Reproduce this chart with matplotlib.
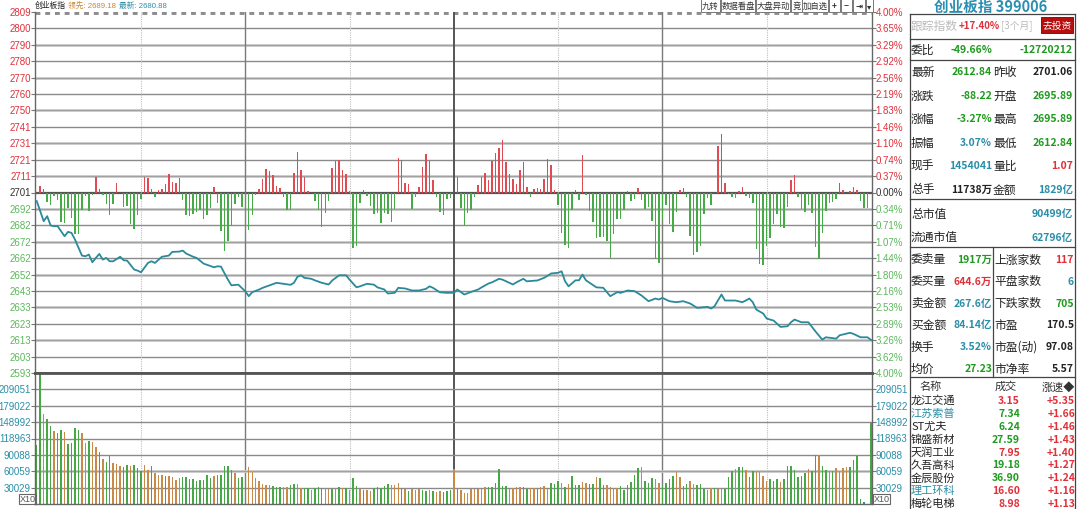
import matplotlib
matplotlib.use('Agg')
import matplotlib.pyplot as plt
from matplotlib.patches import Rectangle

plt.rcParams['font.family'] = ['Noto Sans CJK SC', 'DejaVu Sans']

W, H = 1080, 510

# -- data -- #
prev_close = 2701.06
price_step = 9.822

price_labels = ['2809', '2800', '2790', '2780', '2770', '2760', '2750', '2741', '2731', '2721', '2711',
                '2701',
                '2692', '2682', '2672', '2662', '2652', '2643', '2633', '2623', '2613', '2603', '2593']
pct_labels = ['4.00%', '3.65%', '3.29%', '2.92%', '2.56%', '2.19%', '1.83%', '1.46%', '1.10%', '0.74%', '0.37%',
              '0.00%',
              '0.34%', '0.71%', '1.07%', '1.44%', '1.80%', '2.16%', '2.53%', '2.89%', '3.26%', '3.62%', '4.00%']
vol_labels = ['30029', '60059', '90088', '118963', '148992', '179022', '209051']
vol_step = 30029.4

# index line (minute, price)
price_min = [0, 2, 3, 4, 5, 6, 8, 9, 10, 11, 13, 14, 15, 16, 17, 18, 19, 20, 21, 22, 24, 25, 26, 28, 29, 30,
             32, 33, 34, 36, 38, 39, 41, 42, 43, 45, 46, 48, 51, 52, 53, 55, 56, 58, 60, 61, 62, 64, 65, 67,
             69, 71, 73, 74, 75, 76, 77, 79, 80, 82, 84, 85, 87, 89, 90, 92, 93, 95, 97, 98, 100, 101, 103,
             104, 106, 108, 110, 112, 113, 114, 116, 118, 120,
             121, 123, 125, 127, 128, 130, 131, 133, 134, 137, 138, 140, 141, 144, 146, 148, 150, 151, 152,
             153, 155, 156, 157, 158, 161, 163, 165, 167, 168, 170, 172, 174, 176, 178, 179, 180, 182, 184,
             186, 188, 190, 193, 194, 195, 197, 198, 201, 203, 204, 205, 206, 207, 209, 210, 212, 214, 216,
             217, 218, 220, 222, 224, 226, 227, 230, 231, 234, 235, 237, 239, 240]
price_val = [2695.9, 2683.9, 2686.9, 2681.3, 2680.9, 2680.9, 2674.9, 2677.5, 2676.9, 2672.9, 2663.3, 2662.9,
             2663.9, 2659.3, 2661.9, 2664.3, 2660.9, 2661.9, 2659.9, 2659.9, 2662.6, 2660.5, 2660.3, 2655.0,
             2654.3, 2653.3, 2658.9, 2659.9, 2658.9, 2662.6, 2663.3, 2665.5, 2665.7, 2666.3, 2664.5, 2662.6,
             2661.9, 2658.5, 2656.3, 2656.9, 2656.7, 2648.9, 2645.5, 2645.9, 2641.9, 2639.0, 2641.4, 2643.0,
             2644.0, 2645.5, 2647.0, 2646.4, 2645.8, 2647.0, 2650.6, 2651.5, 2650.0, 2649.4, 2648.5, 2647.0,
             2646.0, 2648.4, 2651.5, 2651.5, 2648.9, 2644.3, 2644.9, 2646.4, 2645.9, 2644.3, 2643.0, 2640.6,
             2641.0, 2644.0, 2643.6, 2642.4, 2642.4, 2643.4, 2644.9, 2644.0, 2641.3, 2641.0, 2641.0,
             2643.0, 2640.0, 2641.6, 2643.0, 2644.3, 2646.6, 2647.3, 2649.4, 2648.9, 2646.0, 2647.3, 2649.4,
             2647.9, 2648.4, 2650.0, 2652.6, 2653.0, 2653.9, 2647.9, 2644.9, 2648.5, 2648.5, 2651.9, 2648.5,
             2644.3, 2644.0, 2639.0, 2641.4, 2641.0, 2642.4, 2642.0, 2639.4, 2636.0, 2637.6, 2637.0, 2638.0,
             2636.0, 2635.4, 2636.0, 2634.6, 2632.0, 2632.6, 2631.6, 2633.0, 2640.0, 2636.4, 2636.4, 2635.4,
             2636.4, 2637.6, 2635.4, 2631.0, 2628.6, 2625.6, 2624.4, 2620.6, 2621.0, 2623.4, 2625.0, 2623.4,
             2623.4, 2618.0, 2613.0, 2614.4, 2613.6, 2615.6, 2617.1, 2616.4, 2614.4, 2614.4, 2612.84]

# red / green strength bars per minute, in index points from the previous close
force = [0,
         3.6, 1.8, -5.6, -7.6, -2.0, -4.4, -17.4, -18.0, -9.0, -15.0,
         -24.6, -24.6, -10.2, -2.0, -10.8, -1.6, 9.4, 2.0, -1.6, -7.0,
         -13.2, -7.0, 5.4, 0, -8.6, -8.0, -18.7, -22.0, -13.6, -4.0,
         9.4, 8.8, 2.0, -2.4, 1.4, 2.0, 5.0, 10.8, 6.0, 5.4,
         8.8, -4.4, -13.4, -14.0, -12.8, -11.4, -10.4, -15.6, -13.2, -9.2,
         3.0, -6.0, -22.9, -35.3, -29.3, -19.9, -7.0, -2.6, -8.6, -28.0,
         -22.6, -13.4, -1.4, 2.0, 8.0, 14.0, 13.0, 10.2, 3.8, 2.8,
         -2.4, -10.6, -10.2, 11.6, 24.1, 13.2, 9.4, 0.8, 0, -4.8,
         -10.4, -20.4, -12.0, -5.2, 14.6, 18.6, 19.3, 13.2, 11.2, 1.0,
         -33.1, -31.9, -6.4, 1.6, -2.0, -8.0, -12.8, -12.0, -18.0, -12.0,
         -13.0, -17.5, -10.0, 20.5, 19.6, 5.8, 4.8, -9.6, -2.6, 3.2,
         15.0, 22.8, 18.7, 7.4, -2.4, -11.6, -13.2, -3.8, -3.4, 0,
         9.4, -9.4, -20.0, -12.0, -10.4, -2.6, 4.6, 9.0, 11.4, 7.6,
         19.0, 23.6, 26.8, 31.3, 18.4, 11.0, 8.0, 5.2, 13.2, 18.1,
         3.4, -2.4, 2.0, 2.8, 2.0, 8.0, 19.9, 16.4, 1.2, -7.2,
         -24.0, -31.6, -33.1, -10.4, 1.4, -4.4, 22.3, -1.6, -10.8, -17.5,
         -27.4, -26.4, -26.4, -28.9, -39.5, -24.6, -16.0, -15.6, -10.4, 0.8,
         -5.0, -4.0, 2.6, -4.4, -10.0, -8.4, -17.2, -39.9, -41.9, -16.0,
         -7.4, -18.6, -23.4, -11.6, 1.4, 2.8, -2.4, -25.9, -37.5, -35.9,
         -32.3, -13.0, -3.2, -7.2, 0, 28.0, 35.2, 5.6, -1.0, -2.6,
         -3.2, 0.8, 3.4, -2.0, -3.2, -6.0, -34.0, -42.9, -43.5, -31.9,
         -27.0, -18.6, -13.0, -20.5, -21.0, -8.6, 7.4, 10.6, -2.4, -9.6,
         -11.4, -7.6, -12.0, -32.5, -39.9, -24.0, -11.0, -6.4, -5.4, -4.0,
         5.6, 1.2, 0, 1.0, 3.0, 1.6, -5.2, -9.4, -9.4, 0]

# volume per minute (thousands, x10 lots)
vol_k = [108.6, 238.6, 164.2, 155.0, 142.8, 133.7, 130.6, 136.1, 131.8, 109.2,
         112.3, 139.8, 136.1, 130.6, 112.3, 116.0, 114.1, 103.8, 95.8, 83.0,
         77.5, 89.1, 75.7, 73.2, 69.6, 67.7, 72.0, 69.0, 72.0, 65.9,
         60.4, 71.4, 62.9, 69.0, 56.1, 52.5, 53.1, 51.3, 50.7, 49.4,
         43.9, 47.6, 49.4, 49.4, 46.4, 46.4, 42.7, 43.9, 44.6, 52.5,
         47.6, 50.7, 52.5, 53.7, 70.2, 70.2, 62.9, 56.8, 47.0, 49.4,
         57.4, 68.4, 59.2, 47.6, 42.7, 37.2, 35.4, 34.8, 33.0, 31.7,
         31.7, 31.1, 31.1, 34.8, 37.2, 36.6, 30, 29, 30, 26,
         30, 32, 29, 27, 27, 28, 30, 31, 29, 30,
         25, 47, 33, 28, 25, 25, 23, 29, 31, 30,
         33, 36, 34, 34, 39, 30, 27, 24, 28, 26,
         27, 25, 23, 26, 23, 22, 23, 22, 24, 26,
         64, 28, 25, 21, 20, 27, 27, 28, 27, 31,
         32, 32, 39, 64, 33, 33, 28, 30, 31, 31,
         31, 28, 29, 29, 28, 31, 33, 28, 38, 36,
         43, 38, 31, 37, 52, 35, 35, 41, 39, 37,
         37, 49, 47, 35, 34, 32, 30, 30, 33, 25,
         34, 40, 53, 66, 68, 43, 39, 47, 46, 38,
         35, 38, 45, 51, 59, 50, 33, 36, 42, 37,
         35, 36, 28, 25, 29, 30, 27, 27, 28, 49,
         60, 65, 67, 67, 63, 50, 60, 60, 60, 52,
         42, 45, 43, 45, 40, 45, 70, 70, 63, 49,
         51, 57, 65, 60, 90, 90, 69, 63, 60, 60,
         66, 61, 66, 68, 67, 81, 88, 9, 3, 0,
         148]
# g = green, o = orange, b = blue
vol_dir = ('ggoggoggog' 'gggoogoogo' 'ggoooggogg' 'googooogoo' 'oogggggggg'
           'gogggggogg' 'gooooooogg' 'googgooggo' 'gggoogogog' 'oggogooggg'
           'ggooogogoo' 'oggogooggg' 'ogoooooooo' 'ggggggoooo' 'ggoogooogg'
           'gogogggoog' 'goggoooogg' 'ggggogggoo' 'ggggooggoo' 'gggoogoogg'
           'goggoggooo' 'ogggoggggg' 'ggoggoggog' 'ooooggggbg' 'g')

# right side panel
quote_rows = [('最新', '2612.84', 'g', '昨收', '2701.06', 'k'),
              ('涨跌', '-88.22', 'g', '开盘', '2695.89', 'g'),
              ('涨幅', '-3.27%', 'g', '最高', '2695.89', 'g'),
              ('振幅', '3.07%', 't', '最低', '2612.84', 'g'),
              ('现手', '1454041', 't', '量比', '1.07', 'r'),
              ('总手', '11738万', 'k', '金额', '1829亿', 't')]
cap_rows = [('总市值', '90499亿'), ('流通市值', '62796亿')]
stat_rows = [('委卖量', '1917万', 'g', '上涨家数', '117', 'r'),
             ('委买量', '644.6万', 'r', '平盘家数', '6', 't'),
             ('卖金额', '267.6亿', 't', '下跌家数', '705', 'g'),
             ('买金额', '84.14亿', 't', '市盈', '170.5', 'k'),
             ('换手', '3.52%', 't', '市盈(动)', '97.08', 'k'),
             ('均价', '27.23', 'g', '市净率', '5.57', 'k')]
stock_names = ['龙江交通', '江苏索普', 'ST尤夫', '锦盛新材', '天润工业', '久吾高科', '金辰股份', '理工环科', '梅轮电梯']
stock_name_col = ['k', 't', 'k', 'k', 'k', 'k', 'k', 't', 'k']
stock_price = ['3.15', '7.34', '6.24', '27.59', '7.95', '19.18', '36.90', '16.60', '8.98']
stock_price_col = ['r', 'g', 'g', 'g', 'r', 'g', 'g', 'r', 'r']
stock_speed = ['+5.35', '+1.66', '+1.46', '+1.43', '+1.40', '+1.27', '+1.24', '+1.16', '+1.13']

COL = {'r': '#e0303a', 'g': '#1f9a1f', 't': '#2a8ea8', 'k': '#222222', 'gray': '#aaaaaa'}
VCOL = {'g': '#45a845', 'o': '#c98a48', 'b': '#2a8ea8'}
LINE = '#2a8a9a'
NUM = ['Liberation Sans', 'DejaVu Sans']
MIX = ['Liberation Sans', 'Noto Sans CJK SC']


def fx(x):
    return x / W


def fy(y):
    return 1 - y / H


fig = plt.figure(figsize=(W / 100, H / 100), dpi=100)
fig.patch.set_facecolor('white')

# -- price panel -- #
ax = fig.add_axes([fx(35), fy(374), (872 - 35) / W, (374 - 13) / H])
vax = fig.add_axes([fx(35), fy(505), (872 - 35) / W, (505 - 374) / H])

xmin, xmax = -0.5, 240.3
ax.set_xlim(xmin, xmax)
ax.set_ylim(prev_close - 11 * price_step, prev_close + 11 * price_step)

for k, lab in enumerate(price_labels):
    yv = prev_close + (11 - k) * price_step
    if k == 0:
        ax.axhline(yv, color='#8c8c8c', lw=3.5, ls=(0, (1, 1)), zorder=1)
    elif k == 11:
        ax.axhline(yv, color='#555555', lw=1.6, zorder=1)
    elif k % 2 == 0:
        ax.axhline(yv, color='#c8c8c8', lw=2.0, zorder=1)
        ax.axhline(yv, color='#9a9a9a', lw=0.6, zorder=1)
    elif k < 22:
        ax.axhline(yv, color='#8a8a8a', lw=1.0, zorder=1)
    c = COL['r'] if k < 11 else ('#333333' if k == 11 else '#5cb85c')
    ax.text(-0.005, yv, lab, transform=ax.get_yaxis_transform(), ha='right', va='center',
            fontsize=7, color=c, family=NUM)
    ax.text(1.004, yv, pct_labels[k], transform=ax.get_yaxis_transform(), ha='left', va='center',
            fontsize=7, color=c, family=NUM)

for a in (ax, vax):
    for m in (30, 90, 150, 210):
        a.axvline(m, color='#c0c0c0', lw=0.8, ls=(0, (1, 1)), zorder=1)
    for m in (60, 180):
        a.axvline(m, color='#7a7a7a', lw=1.0, zorder=1)
    a.axvline(120, color='#555555', lw=1.4, zorder=1)
    a.tick_params(length=3, color='#777777', labelleft=False, labelbottom=False, bottom=False)
    a.set_xticks([])
    for s in a.spines.values():
        s.set_color('#666666')
        s.set_linewidth(1.0)

ax.set_yticks([prev_close + (11 - k) * price_step for k in range(23)])
ax.tick_params(axis='y', which='both', left=True, right=True, length=3)

mins = list(range(len(force)))
bar_cols = ['#e04a50' if v > 0 else '#46aa46' for v in force]
ax.bar(mins, force, bottom=prev_close, width=0.42, color=bar_cols, zorder=2)
ax.plot(price_min, price_val, color=LINE, lw=1.3, zorder=3)
ax.spines['bottom'].set_linewidth(2.0)
ax.spines['bottom'].set_color('#555555')
ax.spines['top'].set_visible(False)

# -- volume panel -- #
vax.set_xlim(xmin, xmax)
vax.set_ylim(0, 8 * vol_step)
vol = [v * 1000 for v in vol_k]
vax.bar(range(len(vol)), vol, width=0.42, color=[VCOL[d] for d in vol_dir], zorder=2)
vax.set_yticks([(k + 1) * vol_step for k in range(7)])
vax.tick_params(axis='y', left=True, right=True, length=3)
for k, lab in enumerate(vol_labels):
    yv = (k + 1) * vol_step
    if k == 1:
        vax.axhline(yv, color='#c8c8c8', lw=2.0, zorder=1)
        vax.axhline(yv, color='#9a9a9a', lw=0.6, zorder=1)
    else:
        vax.axhline(yv, color='#8a8a8a', lw=1.0, zorder=1)
    vax.text(-0.005, yv, lab, transform=vax.get_yaxis_transform(), ha='right', va='center',
             fontsize=7, color=COL['t'], family=NUM)
    vax.text(1.004, yv, lab, transform=vax.get_yaxis_transform(), ha='left', va='center',
             fontsize=7, color=COL['t'], family=NUM)
vax.spines['top'].set_linewidth(2.0)
vax.spines['top'].set_color('#555555')

for x0 in (19, 873):
    fig.patches.append(Rectangle((fx(x0), fy(505)), 17 / W, 10 / H, transform=fig.transFigure,
                                 fill=False, ec='#666666', lw=0.8))
    fig.text(fx(x0 + 8.5), fy(500), 'X10', ha='center', va='center', fontsize=6.5, color='#555555',
             family=NUM)

# -- header -- #
HDR = 5.6
fig.text(fx(35), fy(6), '创业板指', fontsize=HDR, color='#222222', va='center')
fig.text(fx(68), fy(6), '领先: 2689.18', fontsize=HDR, color='#c8862e', va='center', family=MIX)
fig.text(fx(119), fy(6), '最新: 2680.88', fontsize=HDR, color=COL['t'], va='center', family=MIX)

buttons = [('九转', 701, 720), ('数据看盘', 721, 755), ('大盘异动', 756, 790), ('竞', 791, 802),
           ('加自选', 802, 828), ('+', 829, 840), ('−', 841, 852), ('⇥', 853, 865), ('▾', 866, 873)]
for txt, x0, x1 in buttons:
    fig.patches.append(Rectangle((fx(x0), fy(12.5)), (x1 - x0) / W, 12.5 / H, transform=fig.transFigure,
                                 fill=True, fc='white', ec='#777777', lw=0.7))
    fig.text(fx((x0 + x1) / 2), fy(6.5), txt, ha='center', va='center', fontsize=6, color='#333333',
             family=['Noto Sans CJK SC', 'DejaVu Sans'],
             weight='bold' if txt in ('+', '−', '⇥') else 'normal')

# -- right panel -- #
fig.text(fx(991), fy(7), '创业板指 399006', ha='center', va='center', fontsize=10.5, color='#2a8fb0',
         weight='bold')
fig.lines.append(plt.Line2D([fx(910), fx(910)], [fy(15), fy(510)], transform=fig.transFigure,
                            color='#444444', lw=0.9))
fig.lines.append(plt.Line2D([fx(1075), fx(1075)], [fy(15), fy(510)], transform=fig.transFigure,
                            color='#444444', lw=0.9))
for yy in (15, 40, 61, 200, 248, 378):
    fig.lines.append(plt.Line2D([fx(910), fx(1075)], [fy(yy), fy(yy)], transform=fig.transFigure,
                                color='#444444', lw=0.9))
fig.lines.append(plt.Line2D([fx(993), fx(993)], [fy(248), fy(378)], transform=fig.transFigure,
                            color='#444444', lw=0.9))

LBL = 8.5
VAL = 7.5
fig.text(fx(911), fy(26), '跟踪指数', fontsize=LBL, color='#bbbbbb', va='center')
fig.text(fx(1000), fy(26), '+17.40%', fontsize=7, color=COL['r'], va='center', ha='right', weight='bold')
fig.text(fx(1001), fy(26), '[3个月]', fontsize=7, color='#bbbbbb', va='center')
fig.patches.append(Rectangle((fx(1041), fy(34)), 32 / W, 16 / H, transform=fig.transFigure,
                             fc='#b50f0f', ec='#7a0000', lw=0.6))
fig.text(fx(1057), fy(26), '去投资', fontsize=7, color='white', ha='center', va='center')

fig.text(fx(911), fy(50), '委比', fontsize=LBL, color='#222222', va='center')
fig.text(fx(992), fy(50), '-49.66%', fontsize=VAL, color=COL['g'], va='center', ha='right', weight='bold')
fig.text(fx(1073), fy(50), '-12720212', fontsize=VAL, color=COL['g'], va='center', ha='right', weight='bold')

for i, (l1, v1, c1, l2, v2, c2) in enumerate(quote_rows):
    yy = 72.5 + i * 23.5
    fig.text(fx(911), fy(yy), l1, fontsize=LBL, color='#222222', va='center')
    fig.text(fx(992), fy(yy), v1, fontsize=VAL, color=COL[c1], va='center', ha='right', weight='bold')
    fig.text(fx(993), fy(yy), l2, fontsize=LBL, color='#222222', va='center')
    fig.text(fx(1073), fy(yy), v2, fontsize=VAL, color=COL[c2], va='center', ha='right', weight='bold')

for i, (l1, v1) in enumerate(cap_rows):
    yy = 214.5 + i * 23
    fig.text(fx(911), fy(yy), l1, fontsize=LBL, color='#222222', va='center')
    fig.text(fx(1073), fy(yy), v1, fontsize=VAL, color=COL['t'], va='center', ha='right', weight='bold')

for i, (l1, v1, c1, l2, v2, c2) in enumerate(stat_rows):
    yy = 260 + i * 21.8
    fig.text(fx(911), fy(yy), l1, fontsize=LBL, color='#222222', va='center')
    fig.text(fx(992), fy(yy), v1, fontsize=VAL, color=COL[c1], va='center', ha='right', weight='bold')
    fig.text(fx(994), fy(yy), l2, fontsize=LBL, color='#222222', va='center')
    fig.text(fx(1074), fy(yy), v2, fontsize=VAL, color=COL[c2], va='center', ha='right', weight='bold')

fig.text(fx(931), fy(387), '名称', fontsize=8, color='#333333', va='center', ha='center')
fig.text(fx(1006), fy(387), '成交', fontsize=8, color='#333333', va='center', ha='center')
fig.text(fx(1075), fy(387), '涨速◆', fontsize=8, color='#333333', va='center', ha='right',
         family=['Noto Sans CJK SC', 'DejaVu Sans'])
for i, name in enumerate(stock_names):
    yy = 401 + i * 12.9
    fig.text(fx(911), fy(yy), name, fontsize=8, color=COL[stock_name_col[i]], va='center')
    fig.text(fx(1020), fy(yy), stock_price[i], fontsize=7.5, color=COL[stock_price_col[i]], va='center',
             ha='right', weight='bold')
    fig.text(fx(1075), fy(yy), stock_speed[i], fontsize=7.5, color=COL['r'], va='center', ha='right',
             weight='bold')

fig.savefig('out.png', dpi=100)
